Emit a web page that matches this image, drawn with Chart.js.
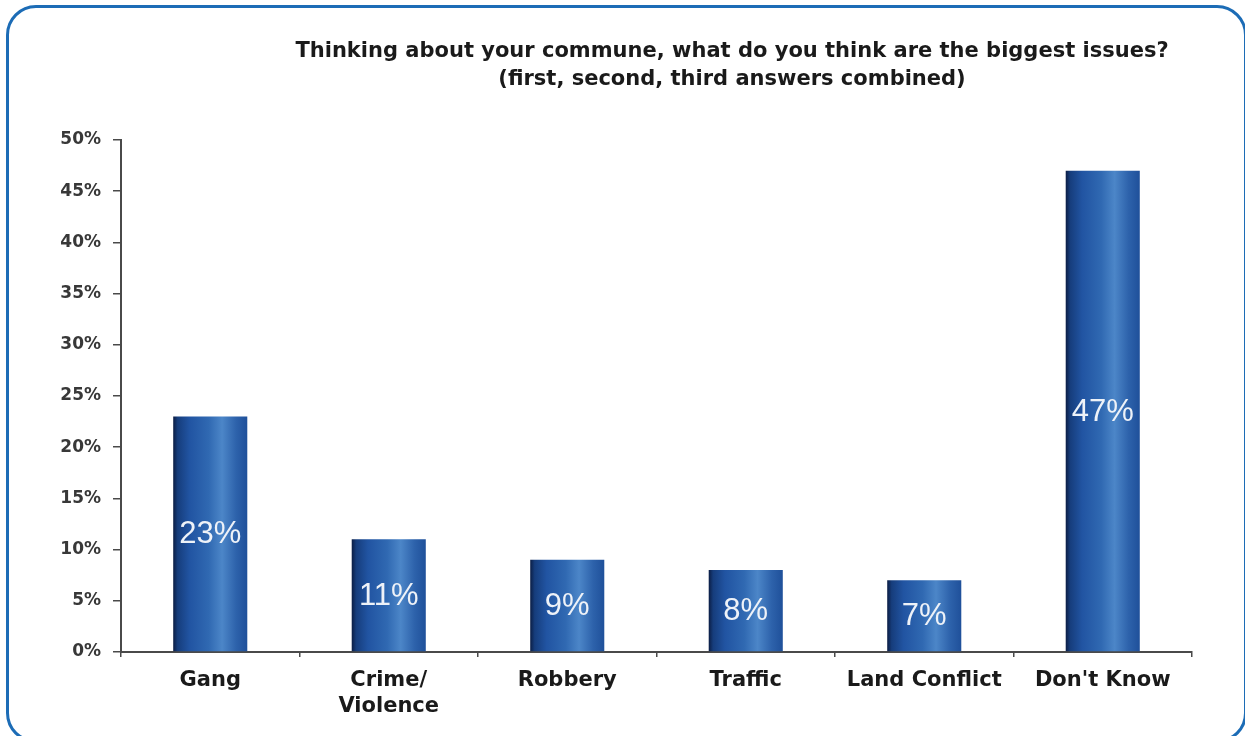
<!DOCTYPE html>
<html>
<head>
<meta charset="utf-8">
<script src="https://cdn.jsdelivr.net/npm/chart.js@4.4.1/dist/chart.umd.min.js"></script>
<style>
  html, body { margin: 0; padding: 0; background: #ffffff; overflow: hidden; }
  #wrap { position: relative; width: 1245px; height: 736px; }
  #frame {
    position: absolute; left: 6px; top: 5px; width: 1241px; height: 738px;
    border: 3px solid #1c6cb6; border-radius: 30px; box-sizing: border-box;
    pointer-events: none;
  }
</style>
</head>
<body>
<div id="wrap">
  <canvas id="chart"></canvas>
  <div id="frame"></div>
</div>
<script>
// Survey answers, percent of respondents
const categories = ['Gang', ['Crime/', 'Violence'], 'Robbery', 'Traffic', 'Land Conflict', "Don't Know"];
const shares = [23, 11, 9, 8, 7, 47];
const yTickValues = [0, 5, 10, 15, 20, 25, 30, 35, 40, 45, 50];
const titleLines = [
  'Thinking about your commune, what do you think are the biggest issues?',
  '(first, second, third answers combined)'
];

const BAR_FRACTION = 0.415;

// Cylinder-like shading across each bar
function barGradient(context) {
  const chart = context.chart;
  const xs = chart.scales && chart.scales.x;
  if (!xs || context.dataIndex === undefined || !xs.width) return '#1f52a0';
  const cx = xs.getPixelForValue(context.dataIndex);
  const half = (xs.width / categories.length) * BAR_FRACTION / 2;
  const g = chart.ctx.createLinearGradient(cx - half, 0, cx + half, 0);
  g.addColorStop(0.00, '#0b1d44');
  g.addColorStop(0.06, '#163d7c');
  g.addColorStop(0.22, '#2154a2');
  g.addColorStop(0.48, '#3069b2');
  g.addColorStop(0.66, '#4c86c8');
  g.addColorStop(0.85, '#2d62ab');
  g.addColorStop(1.00, '#1f509a');
  return g;
}

// Heading drawn over the plot, two centred lines
const headingPlugin = {
  id: 'heading',
  afterDraw(chart) {
    const ctx = chart.ctx;
    ctx.save();
    ctx.font = 'bold 21px "DejaVu Sans"';
    ctx.fillStyle = '#1a1a1a';
    ctx.textAlign = 'center';
    ctx.textBaseline = 'middle';
    ctx.fillText(titleLines[0], 732, 52);
    ctx.fillText(titleLines[1], 732, 80);
    ctx.restore();
  }
};

// Percent labels in the middle of each bar
const valueLabelPlugin = {
  id: 'valueLabels',
  afterDatasetsDraw(chart) {
    const ctx = chart.ctx;
    const meta = chart.getDatasetMeta(0);
    ctx.save();
    ctx.font = '31px "Liberation Sans"';
    ctx.fillStyle = '#eef2f8';
    ctx.textAlign = 'center';
    ctx.textBaseline = 'middle';
    meta.data.forEach((bar, i) => {
      ctx.fillText(shares[i] + '%', bar.x, (bar.y + bar.base) / 2 + 1);
    });
    ctx.restore();
  }
};

new Chart(document.getElementById('chart'), {
  type: 'bar',
  data: {
    labels: categories,
    datasets: [{
      data: shares,
      backgroundColor: barGradient,
      borderWidth: 0,
      categoryPercentage: 1,
      barPercentage: BAR_FRACTION
    }]
  },
  options: {
    responsive: true,
    maintainAspectRatio: false,
    animation: false,
    layout: { padding: { top: 140, right: 53, left: 0, bottom: 0 } },
    plugins: {
      legend: { display: false },
      tooltip: { enabled: false },
      title: { display: false }
    },
    scales: {
      x: {
        grid: {
          display: true, drawOnChartArea: false, drawTicks: true,
          tickLength: 5, color: '#4a4a4a', lineWidth: 1.5, offset: true
        },
        border: { display: true, color: '#4a4a4a', width: 2 },
        ticks: {
          color: '#1a1a1a', padding: 10, maxRotation: 0, autoSkip: false,
          font: { family: '"DejaVu Sans"', weight: 'bold', size: 21, lineHeight: 1.25 }
        },
        afterFit(scale) { scale.height = 84; }
      },
      y: {
        min: 0, max: 50,
        afterBuildTicks(scale) { scale.ticks = yTickValues.map(v => ({ value: v })); },
        grid: {
          display: true, drawOnChartArea: false, drawTicks: true,
          tickLength: 8, color: '#4a4a4a', lineWidth: 1.5
        },
        border: { display: true, color: '#4a4a4a', width: 2 },
        ticks: {
          color: '#383838', padding: 12,
          font: { family: '"DejaVu Sans"', weight: 'bold', size: 17 },
          callback: v => v + '%'
        },
        afterFit(scale) { scale.width = 121; }
      }
    }
  },
  plugins: [headingPlugin, valueLabelPlugin]
});
</script>
</body>
</html>
